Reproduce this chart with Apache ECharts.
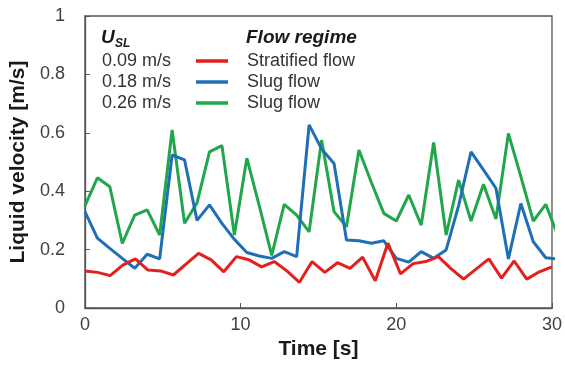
<!DOCTYPE html>
<html>
<head>
<meta charset="utf-8">
<script src="https://cdn.jsdelivr.net/npm/echarts@6/dist/echarts.min.js"></script>
<style>
html,body{margin:0;padding:0;background:#fff;}
#chart{width:565px;height:367px;}
</style>
</head>
<body>
<div id="chart"></div>
<script>
// Time stamps [s] for the slug-flow series (0.18 and 0.26 m/s)
var timeSlug = [0,0.8,1.6,2.4,3.2,4.0,4.8,5.6,6.4,7.2,8.0,8.8,9.6,10.4,11.2,12.0,12.8,13.6,14.4,15.2,16.0,16.8,17.6,18.4,19.2,20.0,20.8,21.6,22.4,23.2,24.0,24.8,25.6,26.4,27.2,28.0,28.8,29.6,30.4];
// Time stamps [s] for the stratified series (0.09 m/s)
var timeStrat = [0,0.81,1.62,2.43,3.24,4.05,4.86,5.68,6.49,7.3,8.11,8.92,9.73,10.54,11.35,12.16,12.97,13.78,14.59,15.41,16.22,17.03,17.84,18.65,19.46,20.27,21.08,21.89,22.7,23.51,24.32,25.14,25.95,26.76,27.57,28.38,29.19,30.0];

var usl009 = [0.127,0.122,0.111,0.147,0.168,0.13,0.127,0.113,0.15,0.187,0.165,0.124,0.176,0.165,0.141,0.159,0.127,0.088,0.159,0.122,0.155,0.136,0.174,0.093,0.222,0.117,0.152,0.159,0.176,0.135,0.099,0.134,0.168,0.102,0.161,0.099,0.124,0.141];
var usl018 = [0.33,0.239,0.204,0.17,0.136,0.184,0.168,0.524,0.507,0.30,0.353,0.29,0.235,0.19,0.178,0.17,0.193,0.176,0.627,0.545,0.495,0.233,0.23,0.222,0.23,0.17,0.157,0.193,0.17,0.199,0.35,0.535,0.473,0.41,0.168,0.358,0.227,0.172,0.168];
var usl026 = [0.35,0.446,0.415,0.221,0.318,0.336,0.25,0.61,0.29,0.36,0.535,0.556,0.25,0.513,0.35,0.18,0.355,0.318,0.261,0.575,0.33,0.278,0.541,0.43,0.324,0.298,0.387,0.284,0.567,0.25,0.438,0.298,0.424,0.305,0.598,0.45,0.298,0.355,0.245];

var legendVel = ['0.09 m/s','0.18 m/s','0.26 m/s'];
var legendRegime = ['Stratified flow','Slug flow','Slug flow'];
var colors = ['#e3201e','#1f6fb6','#22a64b'];

function pairs(t, v){ return v.map(function(y,i){ return [t[i], y]; }); }

var FONT = '"Liberation Sans", Arial, sans-serif';
var chart = echarts.init(document.getElementById('chart'), null, {renderer:'canvas'});

var graphics = [
  {type:'text', left:101, top:28, style:{text:'U', font:'italic bold 19px '+FONT, fill:'#1a1a1a'}},
  {type:'text', left:115, top:38, style:{text:'SL', font:'italic bold 12px '+FONT, fill:'#1a1a1a'}},
  {type:'text', left:246, top:28, style:{text:'Flow regime', font:'italic bold 19px '+FONT, fill:'#1a1a1a'}}
];
var rowY = [61, 82, 103];
for (var i=0;i<3;i++){
  graphics.push({type:'text', left:102, top:rowY[i]-9, style:{text:legendVel[i], font:'18px '+FONT, fill:'#333'}});
  graphics.push({type:'line', shape:{x1:196,y1:rowY[i],x2:228,y2:rowY[i]}, style:{stroke:colors[i], lineWidth:3.5}});
  graphics.push({type:'text', left:247, top:rowY[i]-9, style:{text:legendRegime[i], font:'18px '+FONT, fill:'#333'}});
}

chart.setOption({
  animation:false,
  backgroundColor:'#fff',
  grid:{left:83, right:12, top:16, bottom:59, show:true, borderColor:'#555', borderWidth:1.3, backgroundColor:'transparent'},
  xAxis:{
    type:'value', min:0, max:30, interval:10,
    name:'Time [s]', nameLocation:'middle', nameGap:30,
    nameTextStyle:{fontFamily:FONT, fontWeight:'bold', fontSize:21, color:'#1a1a1a'},
    axisLine:{show:true, lineStyle:{color:'#555', width:1.3}},
    axisTick:{show:true, inside:true, length:5, lineStyle:{color:'#555'}},
    axisLabel:{fontFamily:FONT, fontSize:18, color:'#404040', margin:8},
    splitLine:{show:false}
  },
  yAxis:{
    type:'value', min:0, max:1, interval:0.2,
    name:'Liquid velocity [m/s]', nameLocation:'middle', nameGap:52,
    nameTextStyle:{fontFamily:FONT, fontWeight:'bold', fontSize:21, color:'#1a1a1a'},
    axisLine:{show:true, lineStyle:{color:'#555', width:1.3}},
    axisTick:{show:true, inside:true, length:5, lineStyle:{color:'#555'}},
    axisLabel:{fontFamily:FONT, fontSize:18, color:'#404040', margin:20,
      formatter:function(v){ return String(Math.round(v*10)/10); }},
    splitLine:{show:false}
  },
  series:[
    {type:'line', name:legendVel[2], data:pairs(timeSlug, usl026), showSymbol:false, clip:true, lineStyle:{color:colors[2], width:3}, itemStyle:{color:colors[2]}},
    {type:'line', name:legendVel[1], data:pairs(timeSlug, usl018), showSymbol:false, clip:true, lineStyle:{color:colors[1], width:3}, itemStyle:{color:colors[1]}},
    {type:'line', name:legendVel[0], data:pairs(timeStrat, usl009), showSymbol:false, clip:true, lineStyle:{color:colors[0], width:3}, itemStyle:{color:colors[0]}}
  ],
  graphic:graphics
});
</script>
</body>
</html>
